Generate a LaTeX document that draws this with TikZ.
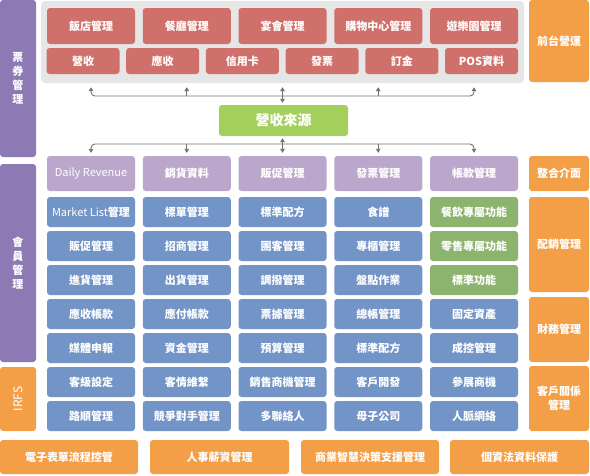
\documentclass[tikz,border=0pt]{standalone}
\usepackage{fontspec}
\newfontfamily\cjk{Noto Sans CJK TC}
\usetikzlibrary{arrows.meta}
\definecolor{bgGray}{HTML}{E6E6E6}
\definecolor{cRed}{HTML}{D0706B}
\definecolor{cPurple}{HTML}{8D7AB5}
\definecolor{cLilac}{HTML}{BBA7CB}
\definecolor{cBlue}{HTML}{7394C7}
\definecolor{cGreen}{HTML}{8CB46F}
\definecolor{cLime}{HTML}{A4CF5A}
\definecolor{cOrange}{HTML}{F29F48}
\definecolor{cLink}{HTML}{707070}
\tikzset{
	box/.style={rounded corners=3pt, inner sep=0pt, text=white, align=center,
		font=\cjk\fontsize{11}{14}\selectfont\bfseries},
	cell/.style={box, minimum width=88pt, minimum height=30pt},
	redcell/.style={box, fill=cRed},
	head/.style={cell, fill=cLilac, minimum height=35pt},
	bluecell/.style={cell, fill=cBlue},
	greencell/.style={cell, fill=cGreen},
	side/.style={box, fill=cOrange, minimum width=60pt},
	bar/.style={box, fill=cPurple, minimum width=36pt},
	foot/.style={box, fill=cOrange, minimum height=34pt},
	link/.style={draw=cLink, line width=0.9pt},
	tip/.style={-{Triangle[length=4pt,width=4.5pt]}},
	tips/.style={{Triangle[length=4pt,width=4.5pt]}-{Triangle[length=4pt,width=4.5pt]}}
}
\begin{document}
\begin{tikzpicture}[x=1pt,y=-1pt]
		%%%%% FRAME %%%%%
		\useasboundingbox (0,0) rectangle (590,475);
		
		\node[fill=bgGray, rounded corners=4pt, minimum width=483pt, minimum height=82pt, inner sep=0pt] (bg) at (282.5,42) {};
		
		%%%%% FRONT DESK %%%%%
		\node[redcell, minimum width=88pt, minimum height=36pt] (r1) at (91,26) {飯店管理};
		\node[redcell, minimum width=88pt, minimum height=36pt] (r2) at (186.75,26) {餐廳管理};
		\node[redcell, minimum width=88pt, minimum height=36pt] (r3) at (282.5,26) {宴會管理};
		\node[redcell, minimum width=88pt, minimum height=36pt] (r4) at (378.25,26) {購物中心管理};
		\node[redcell, minimum width=88pt, minimum height=36pt] (r5) at (474,26) {遊樂園管理};
		
		\node[redcell, minimum width=73pt, minimum height=26pt] (s1) at (83,61) {營收};
		\node[redcell, minimum width=73pt, minimum height=26pt] (s2) at (162.7,61) {應收};
		\node[redcell, minimum width=73pt, minimum height=26pt] (s3) at (242.4,61) {信用卡};
		\node[redcell, minimum width=73pt, minimum height=26pt] (s4) at (322.1,61) {發票};
		\node[redcell, minimum width=73pt, minimum height=26pt] (s5) at (401.8,61) {訂金};
		\node[redcell, minimum width=73pt, minimum height=26pt] (s6) at (481.5,61) {POS資料};
		
		%%%%% HUB %%%%%
		\node[box, fill=cLime, minimum width=129pt, minimum height=31pt, font=\cjk\fontsize{14}{16}\selectfont\bfseries] (hub) at (283.5,120.5) {營收來源};
		
		%%%%% HEADERS %%%%%
		\node[head, font=\cjk\fontsize{11}{14}\selectfont] (h1) at (91,173.5) {Daily Revenue};
		\node[head] (h2) at (186.75,173.5) {銷貨資料};
		\node[head] (h3) at (282.5,173.5) {販促管理};
		\node[head] (h4) at (378.25,173.5) {發票管理};
		\node[head] (h5) at (474,173.5) {帳款管理};
		
		%%%%% GRID %%%%%
		\node[bluecell] (a1) at (91,212) {{\mdseries Market List}管理};
		\node[bluecell] (a2) at (91,246) {販促管理};
		\node[bluecell] (a3) at (91,280) {進貨管理};
		\node[bluecell] (a4) at (91,314) {應收帳款};
		\node[bluecell] (a5) at (91,348) {媒體申報};
		\node[bluecell] (a6) at (91,382) {客級設定};
		\node[bluecell] (a7) at (91,416) {路順管理};
		
		\node[bluecell] (b1) at (186.75,212) {標單管理};
		\node[bluecell] (b2) at (186.75,246) {招商管理};
		\node[bluecell] (b3) at (186.75,280) {出貨管理};
		\node[bluecell] (b4) at (186.75,314) {應付帳款};
		\node[bluecell] (b5) at (186.75,348) {資金管理};
		\node[bluecell] (b6) at (186.75,382) {客情維繫};
		\node[bluecell] (b7) at (186.75,416) {競爭對手管理};
		
		\node[bluecell] (c1) at (282.5,212) {標準配方};
		\node[bluecell] (c2) at (282.5,246) {團客管理};
		\node[bluecell] (c3) at (282.5,280) {調撥管理};
		\node[bluecell] (c4) at (282.5,314) {票據管理};
		\node[bluecell] (c5) at (282.5,348) {預算管理};
		\node[bluecell] (c6) at (282.5,382) {銷售商機管理};
		\node[bluecell] (c7) at (282.5,416) {多聯絡人};
		
		\node[bluecell] (d1) at (378.25,212) {食譜};
		\node[bluecell] (d2) at (378.25,246) {專櫃管理};
		\node[bluecell] (d3) at (378.25,280) {盤點作業};
		\node[bluecell] (d4) at (378.25,314) {總帳管理};
		\node[bluecell] (d5) at (378.25,348) {標準配方};
		\node[bluecell] (d6) at (378.25,382) {客戶開發};
		\node[bluecell] (d7) at (378.25,416) {母子公司};
		
		\node[greencell] (e1) at (474,212) {餐飲專屬功能};
		\node[greencell] (e2) at (474,246) {零售專屬功能};
		\node[greencell] (e3) at (474,280) {標準功能};
		\node[bluecell] (e4) at (474,314) {固定資產};
		\node[bluecell] (e5) at (474,348) {成控管理};
		\node[bluecell] (e6) at (474,382) {參展商機};
		\node[bluecell] (e7) at (474,416) {人脈網絡};
		
		%%%%% LEFT BARS %%%%%
		\node[bar, minimum height=157pt] (ticket) at (18,78.5) {票\\券\\管\\理};
		\node[bar, minimum height=198pt] (member) at (18,263) {會\\員\\管\\理};
		\node[box, fill=cOrange, minimum width=36pt, minimum height=64pt] (irfs) at (18,399) {};
		\node[text=white, rotate=90, font=\cjk\fontsize{12}{14}\selectfont] (irfsText) at (irfs.center) {IRFS};
		
		%%%%% RIGHT BARS %%%%%
		\node[side, minimum height=82pt] (front) at (559,41) {前台營運};
		\node[side, minimum height=35pt] (bridge) at (559,173.5) {整合介面};
		\node[side, minimum height=95pt] (distrib) at (559,244.5) {配銷管理};
		\node[side, minimum height=65pt] (finance) at (559,329.5) {財務管理};
		\node[side, minimum height=65pt] (crm) at (559,398.5) {客戶關係\\管理};
		
		%%%%% FOOTER %%%%%
		\node[foot, minimum width=138pt] (flow) at (69,457) {電子表單流程控管};
		\node[foot, minimum width=139pt] (hr) at (219.5,457) {人事薪資管理};
		\node[foot, minimum width=138pt] (bi) at (370,457) {商業智慧決策支援管理};
		\node[foot, minimum width=139pt] (privacy) at (519.5,457) {個資法資料保護};
		
		%%%%% LINKS %%%%%
		\coordinate (topbus) at (0,96);
		\coordinate (lowbus) at (0,144);
		
		\draw[link, tips, rounded corners=4pt] ([yshift=-4pt]bg.south -| h1.north) -- (h1.north |- topbus) -- (h5.north |- topbus) -- ([yshift=-4pt]bg.south -| h5.north);
		\foreach \i in {2,3,4}
			\draw[link, tip] (h\i.north |- topbus) -- ([yshift=-4pt]bg.south -| h\i.north);
		\draw[link, tip] (h3.north |- topbus) -- ([yshift=2pt]hub.north -| h3.north);
		
		\draw[link, tips, rounded corners=4pt] ([yshift=3pt]h1.north) -- (h1.north |- lowbus) -- (h5.north |- lowbus) -- ([yshift=3pt]h5.north);
		\foreach \i in {2,3,4}
			\draw[link, tip] (h\i.north |- lowbus) -- ([yshift=3pt]h\i.north);
		\draw[link, tip] (h3.north |- lowbus) -- ([yshift=-2pt]hub.south -| h3.north);
		
	\end{tikzpicture}
\end{document}
